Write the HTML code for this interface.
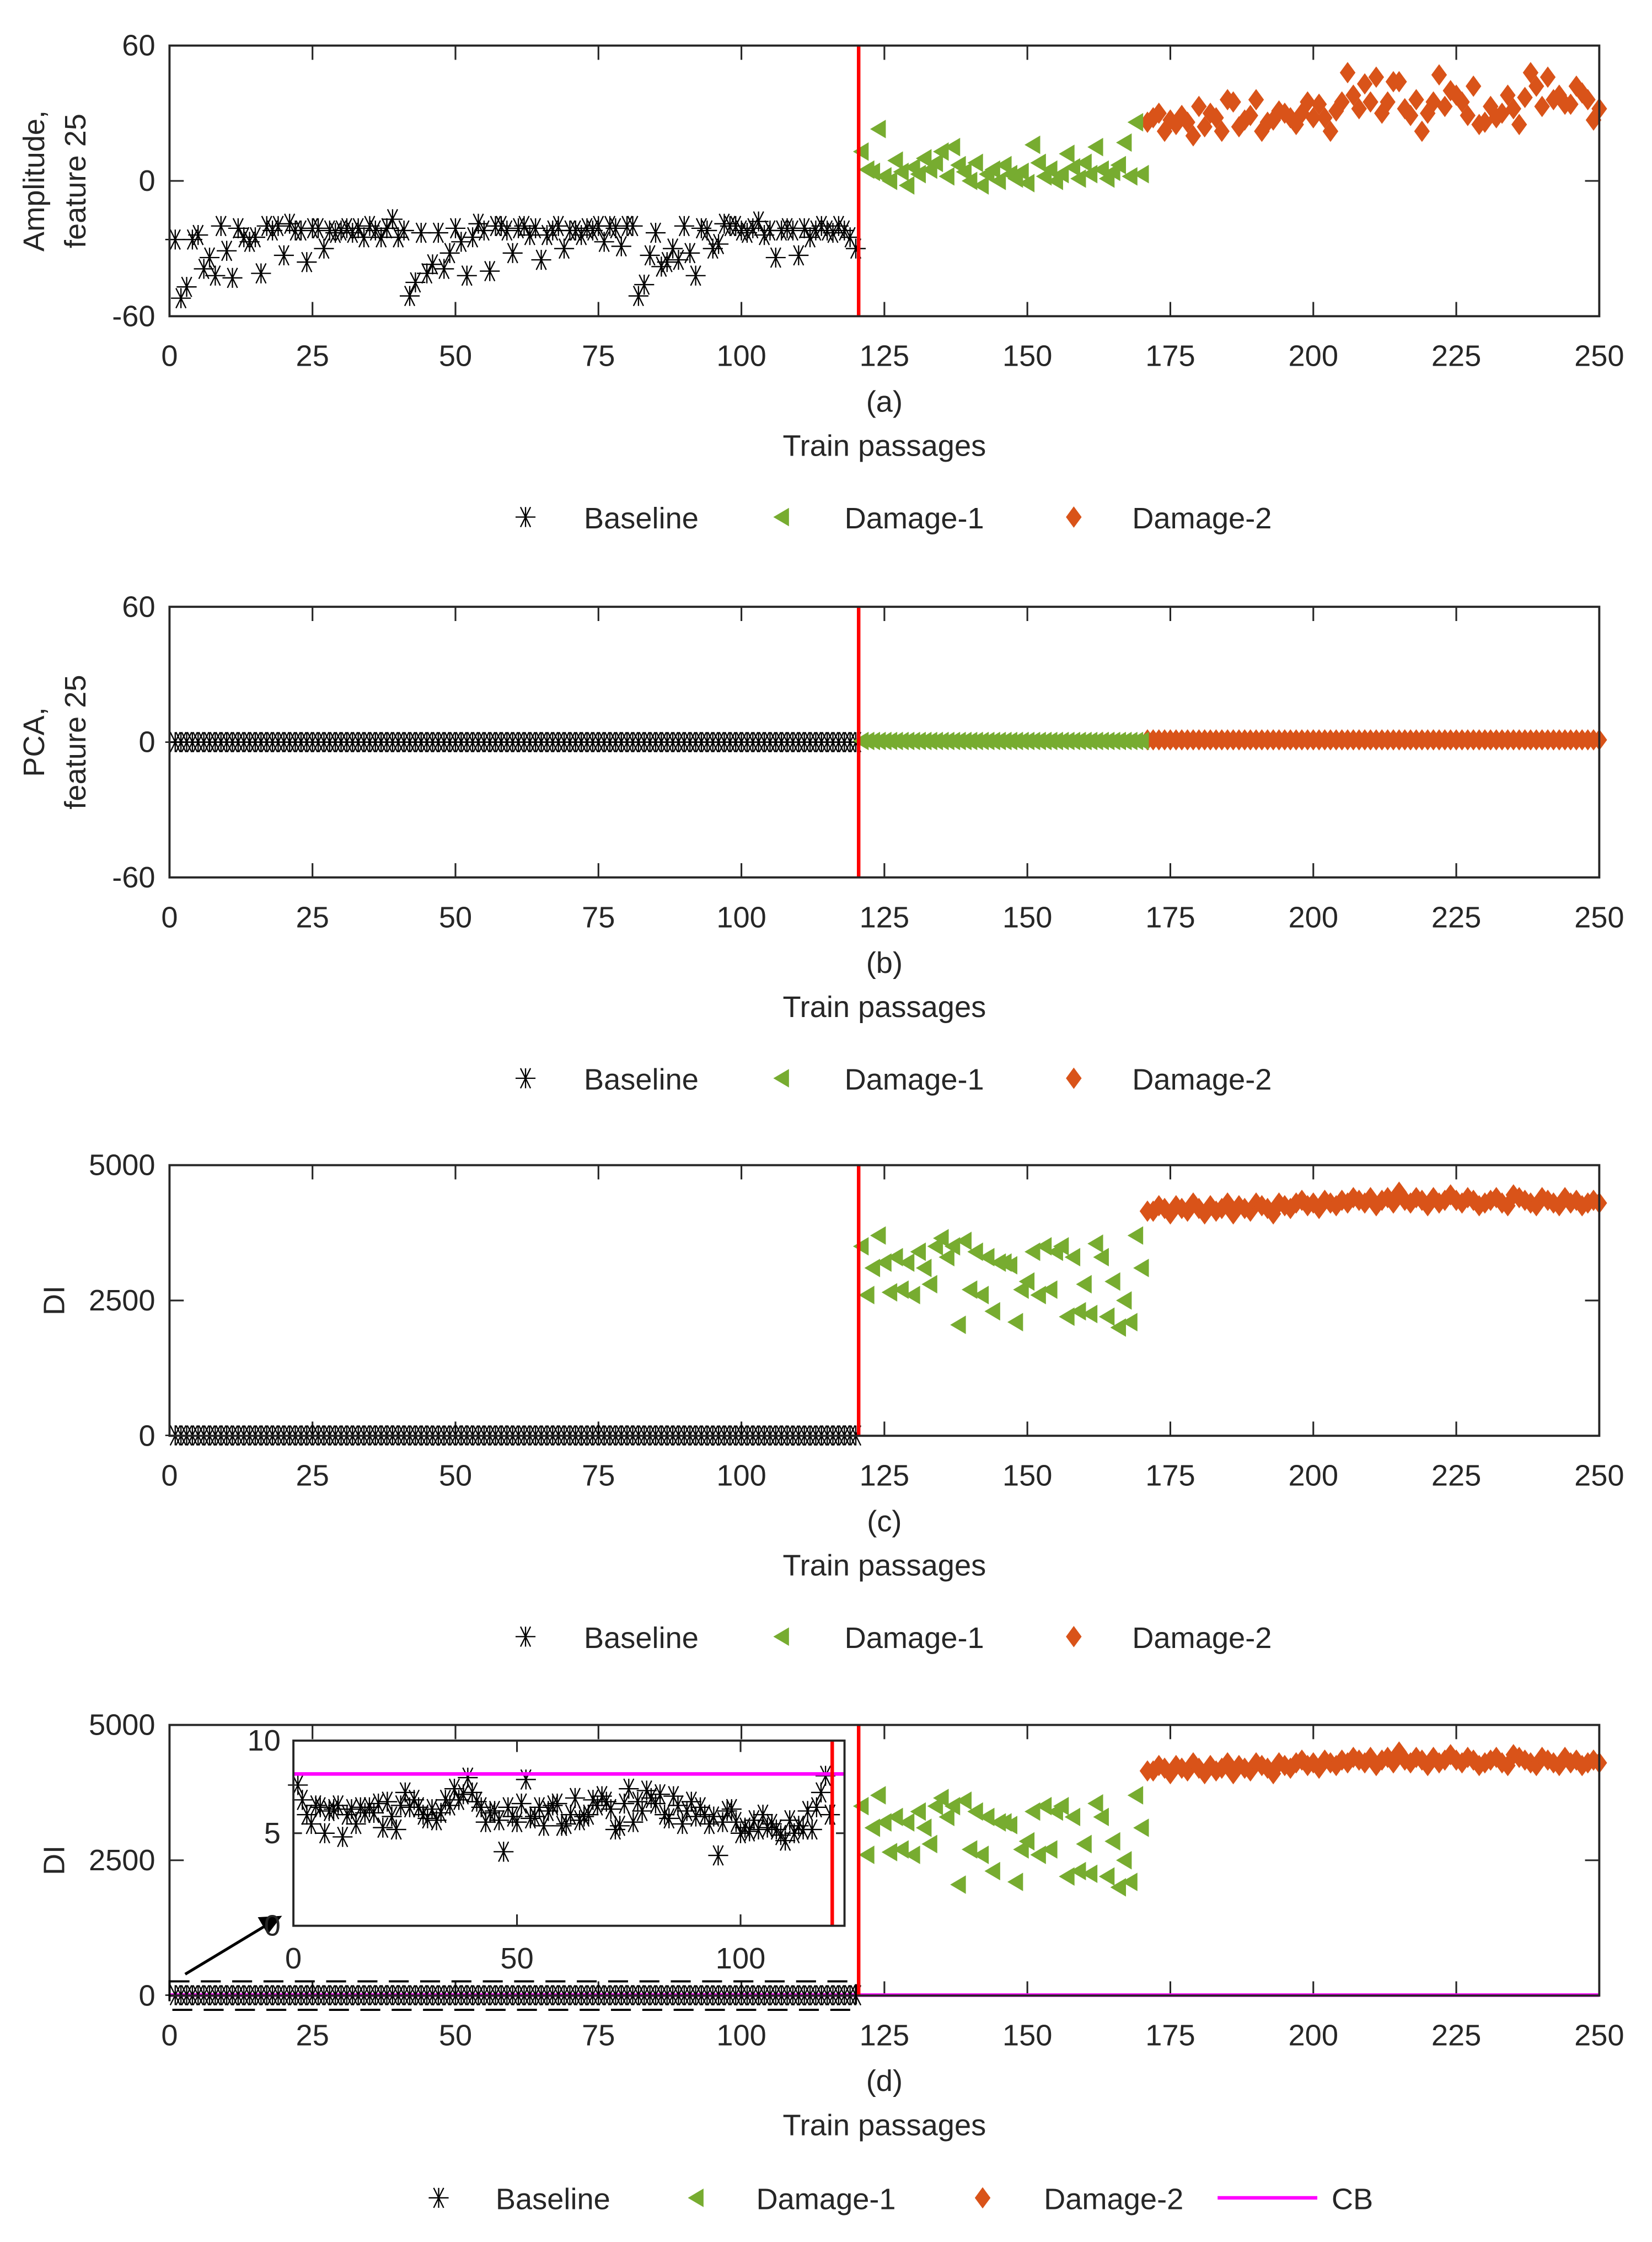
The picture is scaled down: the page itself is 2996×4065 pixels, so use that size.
<!DOCTYPE html>
<html><head><meta charset="utf-8"><style>
html,body{margin:0;padding:0;background:#fff}
svg{display:block}
text{font-family:"Liberation Sans",Arial,sans-serif;fill:#262626}
</style></head><body>
<svg id="fig" xmlns="http://www.w3.org/2000/svg" width="2996" height="4065" viewBox="0 0 1160 1574">
<rect x="0" y="0" width="1160" height="1574" fill="#fff"/>
</svg>
<script>
// ---------- data ----------
const xTicks = [0,25,50,75,100,125,150,175,200,225,250];
const ampBaseline = [-26,-52,-47,-26,-24,-39,-34,-42,-20,-31,-43,-21,-25,-27,-25,-41,-20,-22,-20,-33,-19,-22,-22,-36,-21,-21,-30,-22,-23,-22,-21,-23,-21,-25,-20,-22,-25,-21,-17,-25,-22,-51,-45,-23,-41,-37,-23,-39,-32,-21,-27,-42,-25,-19,-22,-40,-20,-20,-22,-32,-21,-20,-24,-21,-35,-24,-22,-20,-30,-22,-22,-24,-21,-22,-20,-27,-20,-21,-29,-20,-20,-51,-46,-33,-23,-38,-36,-30,-35,-20,-32,-42,-21,-22,-30,-28,-19,-20,-20,-22,-23,-21,-18,-24,-22,-34,-22,-21,-22,-33,-21,-25,-22,-20,-22,-23,-20,-22,-25,-30];
const ampDamage1 = [13,5,4,23,2,0,9,4,-2,6,3,10,5,8,13,2,15,7,4,0,8,-2,3,5,0,7,3,1,4,-1,16,8,2,5,0,3,12,6,1,8,3,15,5,1,4,7,17,2,26,3];
const ampDamage2 = [26,28,30,22,27,25,29,26,20,33,24,30,28,22,36,35,24,27,29,36,22,26,27,31,30,28,25,30,35,28,34,28,22,31,35,48,38,32,43,35,46,30,35,44,44,32,29,36,22,30,35,47,33,40,38,35,29,42,25,26,33,28,30,38,32,25,37,48,42,33,46,36,38,34,34,42,39,36,27,32];
const pcaBaseline = ampBaseline.map(()=>0);
const pcaDamage1 = ampDamage1.map(()=>0.5);
const pcaDamage2 = ampDamage2.map(()=>1);
const diDamage1 = [3500,2600,3100,3700,3200,2650,3300,2700,3200,2600,3400,3100,2800,3500,3650,3300,3500,2050,3600,2700,3400,2600,3300,2300,3200,3200,3150,2100,2700,2850,3400,2600,3500,2700,3400,3500,2200,3300,2300,2800,2250,3550,3300,2200,2850,2000,2500,2100,3700,3100];
const diDamage2 = [4150,4150,4250,4200,4100,4250,4200,4150,4300,4200,4100,4250,4150,4200,4300,4100,4250,4200,4150,4300,4250,4200,4100,4300,4250,4200,4300,4350,4250,4300,4200,4350,4300,4250,4350,4300,4400,4350,4300,4400,4250,4350,4400,4300,4500,4350,4300,4400,4350,4250,4400,4300,4350,4450,4350,4300,4400,4350,4250,4300,4350,4400,4300,4250,4450,4400,4350,4300,4250,4400,4350,4300,4250,4400,4300,4350,4250,4300,4350,4300];
const diBaseline = [7.6,6.8,6.0,5.5,6.5,6.4,5.0,6.2,6.3,6.5,4.8,6.0,6.3,5.5,6.4,6.1,6.4,6.1,6.6,5.3,6.7,5.9,5.2,6.5,7.2,6.4,6.8,6.4,6.0,5.8,6.3,5.7,6.1,6.8,6.5,7.4,6.8,7.1,8.0,7.2,6.7,6.4,5.6,6.1,6.2,5.7,4.0,6.4,5.9,5.6,6.6,7.9,5.8,5.9,6.4,5.4,6.2,6.5,6.6,5.4,5.5,6.0,6.9,5.7,5.9,6.0,6.8,6.5,7.0,6.7,6.3,5.2,5.4,6.6,7.4,5.6,6.7,6.2,7.3,6.9,6.6,7.1,6.0,5.8,7.0,6.5,5.5,6.2,6.7,5.9,6.4,6.0,5.5,5.9,3.8,5.6,6.2,6.3,5.6,5.0,5.3,5.1,5.7,5.2,6.0,5.3,5.5,5.2,4.9,4.6,5.7,5.0,5.4,5.2,6.2,5.2,6.4,7.2,8.1,6.0];
const cbValue = [8.2];
const damageStart = [120.5];
const insetXTicks = [0,50,100];
const insetYTicks = [0,5,10];

// ---------- helpers ----------
const NS = "http://www.w3.org/2000/svg";
const svg = document.getElementById('fig');
function mk(tag, attrs, parent){
  const e = document.createElementNS(NS, tag);
  for (const k in attrs) e.setAttribute(k, attrs[k]);
  (parent||svg).appendChild(e);
  return e;
}
function txt(s, x, y, size, anchor, parent, rot){
  const t = mk('text', {x:x, y:y, 'font-size':size, 'text-anchor':anchor||'middle'}, parent);
  if (rot) t.setAttribute('transform', 'rotate(-90 '+x+' '+y+')');
  t.textContent = s;
  return t;
}
const FS = 21;
const BLACK = '#000', GREEN = '#77AC30', ORANGE = '#D95319';
function star(g, x, y){
  const r = 7, d = 'M'+(x-r)+' '+y+'H'+(x+r)+'M'+(x-r*0.5)+' '+(y-r)+'L'+(x+r*0.5)+' '+(y+r)+'M'+(x+r*0.5)+' '+(y-r)+'L'+(x-r*0.5)+' '+(y+r)+'M'+x+' '+(y-r)+'V'+(y+r);
  const p = mk('path', {d:d, stroke:BLACK, 'stroke-width':0.9, fill:'none'}, g);
  
  
}
function tri(g, x, y){
  const p = mk('path', {d:'M'+(x-6)+' '+y+'L'+(x+5)+' '+(y-6.5)+'L'+(x+5)+' '+(y+6.5)+'Z', fill:GREEN}, g);
  
  
}
function dia(g, x, y){
  const p = mk('path', {d:'M'+x+' '+(y-7.5)+'L'+(x+5.5)+' '+y+'L'+x+' '+(y+7.5)+'L'+(x-5.5)+' '+y+'Z', fill:ORANGE}, g);
  
  
}

const X0 = 119, X1 = 1123;
function xs(v){ return X0 + (v/250)*(X1-X0); }

function panel(name, top, ymin, ymax, yTicks, yLabels, letter, base, d1, d2, withCB){
  const bot = top + 190;
  const g = mk('g', {});
  
  
  const ys = v => bot - (v-ymin)/(ymax-ymin)*(bot-top);
  const tg = mk('g', {stroke:'#262626', 'stroke-width':1.2}, g);
  xTicks.forEach(t => {
    const x = xs(t);
    mk('line', {x1:x, y1:bot, x2:x, y2:bot-10}, tg);
    mk('line', {x1:x, y1:top, x2:x, y2:top+10}, tg);
    const l = txt(String(t), x, bot+35, FS, 'middle', g);
    
    
  });
  yTicks.forEach(t => {
    const y = ys(t);
    mk('line', {x1:X0, y1:y, x2:X0+10, y2:y}, tg);
    mk('line', {x1:X1, y1:y, x2:X1-10, y2:y}, tg);
    const l = txt(String(t), X0-10, y+7, FS, 'end', g);
    
    
  });
  if (yLabels.length === 2){
    const a = txt(yLabels[0], 31, top+95, FS, 'middle', g, true);
     
    const b = txt(yLabels[1], 60, top+95, FS, 'middle', g, true);
     
  } else {
    const a = txt(yLabels[0], 45, top+95, FS, 'middle', g, true);
     
  }
  const cap = txt('('+letter+')', 621, bot+67, FS, 'middle', g);
   
  const xt = txt('Train passages', 621, bot+98, FS, 'middle', g);
   
  const sg = mk('g', {}, g);
  
  
  if (withCB){
    const cb = mk('line', {x1:X0, x2:X1, y1:ys(cbValue[0]), y2:ys(cbValue[0]), stroke:'#FF00FF', 'stroke-width':2.5}, sg);
     
  }
  base.forEach((v,i) => star(sg, xs(i+1), ys(v)));
  d2.forEach((v,i) => dia(sg, xs(i+1+base.length+d1.length), ys(v)));
  d1.forEach((v,i) => tri(sg, xs(i+1+base.length), ys(v)));
  const rl = mk('line', {x1:xs(damageStart[0]), x2:xs(damageStart[0]), y1:top, y2:bot, stroke:'#FF0000', 'stroke-width':2.5}, g);
   
  const box = mk('rect', {x:X0, y:top, width:X1-X0, height:bot-top, fill:'none', stroke:'#262626', 'stroke-width':1.5}, g);
   
  return {g, ys, bot};
}

function legend(y, entries){
  const g = mk('g', {});
  
  
  entries.forEach(e => {
    const eg = mk('g', {}, g);
    
    
    if (e.k==='s') star(eg, e.m, y);
    if (e.k==='t') tri(eg, e.m, y);
    if (e.k==='d') dia(eg, e.m, y);
    if (e.k==='l') mk('line', {x1:e.m-35, x2:e.m+35, y1:y, y2:y, stroke:'#FF00FF', 'stroke-width':2.5}, eg);
    txt(e.t, e.tx, y+8, FS, 'start', eg);
  });
}
const L3 = [{k:'s',m:369,t:'Baseline',tx:410},{k:'t',m:549,t:'Damage-1',tx:593},{k:'d',m:754,t:'Damage-2',tx:795}];

panel('a', 32, -60, 60, [-60,0,60], ['Amplitude,','feature 25'], 'a', ampBaseline, ampDamage1, ampDamage2, false);
legend(363, L3);
panel('b', 426, -60, 60, [-60,0,60], ['PCA,','feature 25'], 'b', pcaBaseline, pcaDamage1, pcaDamage2, false);
legend(757, L3);
panel('c', 818, 0, 5000, [0,2500,5000], ['DI'], 'c', diBaseline, diDamage1, diDamage2, false);
legend(1149, L3);
panel('d', 1211, 0, 5000, [0,2500,5000], ['DI'], 'd', diBaseline, diDamage1, diDamage2, true);
legend(1543, [{k:'s',m:308,t:'Baseline',tx:348},{k:'t',m:489,t:'Damage-1',tx:531},{k:'d',m:690,t:'Damage-2',tx:733},{k:'l',m:890,t:'CB',tx:935}]);

const dz = mk('rect', {x:X0, y:1391, width:482, height:20, fill:'none', stroke:'#000', 'stroke-width':1.5, 'stroke-dasharray':'14,8'});
 
const ar = mk('line', {x1:130, y1:1386, x2:188, y2:1351, stroke:'#000', 'stroke-width':2});
 
const ah = mk('path', {d:'M198 1345 L181 1346 L188 1358 Z', fill:'#000'});
 

(function(){
  const IX0 = 206, IX1 = 593, ITop = 1222, IBot = 1352;
  const ixs = v => IX0 + v*3.14;
  const iys = v => IBot - v/10*(IBot-ITop);
  const g = mk('g', {});
  
  
  mk('rect', {x:IX0, y:ITop, width:IX1-IX0, height:IBot-ITop, fill:'#fff'}, g);
  const tg = mk('g', {stroke:'#262626','stroke-width':1.2}, g);
  insetXTicks.forEach(t => {
    mk('line', {x1:ixs(t), x2:ixs(t), y1:IBot, y2:IBot-8}, tg);
    mk('line', {x1:ixs(t), x2:ixs(t), y1:ITop, y2:ITop+8}, tg);
    const l = txt(String(t), ixs(t), IBot+30, FS, 'middle', g);
     
  });
  insetYTicks.forEach(t => {
    mk('line', {x1:IX0, x2:IX0+6, y1:iys(t), y2:iys(t)}, tg);
    mk('line', {x1:IX1, x2:IX1-6, y1:iys(t), y2:iys(t)}, tg);
    const l = txt(String(t), IX0-9, iys(t)+7, FS, 'end', g);
     
  });
  diBaseline.forEach((v,i) => star(g, ixs(i+1), iys(v)));
  const cb = mk('line', {x1:IX0, x2:IX1, y1:iys(cbValue[0]), y2:iys(cbValue[0]), stroke:'#FF00FF','stroke-width':2.5}, g);
   
  const rl = mk('line', {x1:ixs(damageStart[0]), x2:ixs(damageStart[0]), y1:ITop, y2:IBot, stroke:'#FF0000','stroke-width':2.5}, g);
   
  const b = mk('rect', {x:IX0, y:ITop, width:IX1-IX0, height:IBot-ITop, fill:'none', stroke:'#262626','stroke-width':1.5}, g);
   
})();
</script>
</body></html>
